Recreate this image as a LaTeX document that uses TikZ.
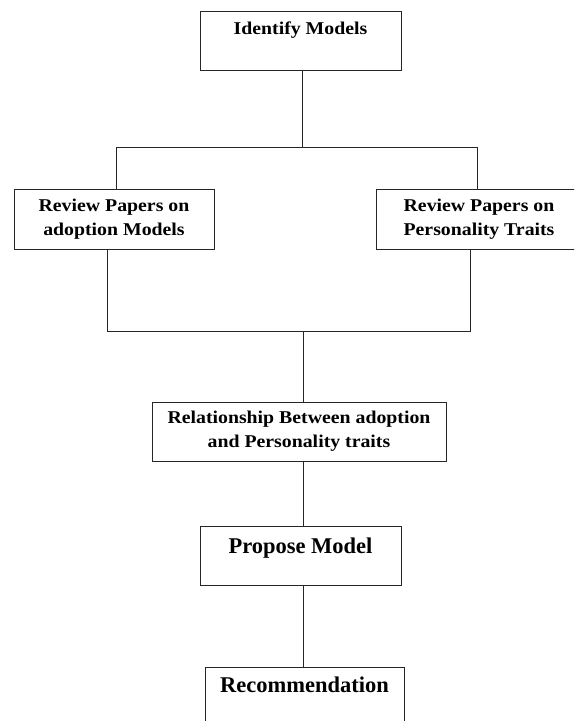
\documentclass[tikz,border=0pt]{standalone}
\usepackage{fontspec}
\setmainfont{Liberation Serif}
\newfontfamily\widefont{Liberation Serif}[FakeStretch=1.1]
\begin{document}
\begin{tikzpicture}[x=1pt,y=-1pt,
    stage/.style={draw=black!85,line width=1pt,inner xsep=0pt,inner ysep=0pt,align=center},
    small/.style={font=\widefont\bfseries\fontsize{18}{24}\selectfont},
    big/.style={font=\bfseries\fontsize{22.5}{27}\selectfont},
    link/.style={draw=black!85,line width=1pt}]
    \useasboundingbox (0,0) rectangle (574,721);
    \clip (0,0) rectangle (574,721);
    % boxes
    \node[stage,small,anchor=north,minimum width=201pt,text height=23pt,text depth=36pt] (ident) at (300.5,11) {Identify Models};
    \node[stage,small,minimum width=200pt,minimum height=60pt] (revA) at (114,219) {Review Papers on\\adoption Models};
    \node[stage,small,minimum width=206pt,minimum height=60pt] (revB) at (479,219) {Review Papers on\\Personality Traits};
    \node[stage,small,minimum width=294pt,minimum height=59pt] (rel) at (299,431.5) {Relationship Between adoption\\and Personality traits};
    \node[stage,big,anchor=north,minimum width=201pt,text height=27pt,text depth=32pt] (prop) at (300.5,526) {Propose Model};
    \node[stage,big,anchor=north,minimum width=199pt,text height=25pt,text depth=34pt] (rec) at (304.5,667) {Recommendation};
    % connectors
    \coordinate (split) at (302,147);
    \coordinate (topL) at (116,147);
    \coordinate (topR) at (477,147);
    \coordinate (botL) at (107,331);
    \coordinate (botR) at (470,331);
    \coordinate (join) at (303,331);
    \draw[link] (ident.south -| split) -- (split);
    \draw[link] (revA.north -| topL) |- (topR) -- (revB.north -| topR);
    \draw[link] (revA.south -| botL) |- (botR) -- (revB.south -| botR);
    \draw[link] (join) -- (rel.north -| join);
    \draw[link] (rel.south -| join) -- (prop.north -| join);
    \draw[link] (prop.south -| join) -- (rec.north -| join);
\end{tikzpicture}
\end{document}
